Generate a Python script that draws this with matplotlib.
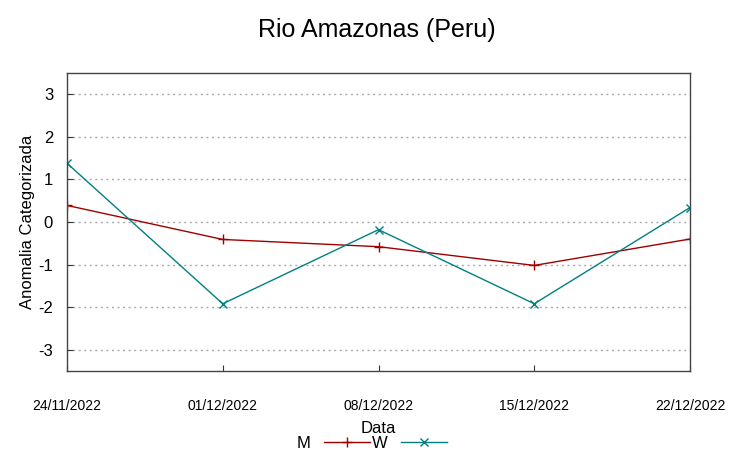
import matplotlib
matplotlib.use("Agg")
import matplotlib.pyplot as plt
from datetime import datetime

plt.rcParams['font.family'] = ['Liberation Sans', 'DejaVu Sans']

dates = ["24/11/2022", "01/12/2022", "08/12/2022", "15/12/2022", "22/12/2022"]
m_values = [0.39, -0.41, -0.58, -1.02, -0.40]
w_values = [1.38, -1.92, -0.18, -1.92, 0.34]
yticks = [-3, -2, -1, 0, 1, 2, 3]

x = [datetime.strptime(d, "%d/%m/%Y") for d in dates]

fig = plt.figure(figsize=(7.53, 4.59), dpi=100)
ax = fig.add_axes([67/753, 1-371/459, (690-67)/753, (371-73)/459])

ax.plot(x, m_values, color='#a00000', marker='+', markersize=7, lw=1, label='M')
ax.plot(x, w_values, color='#008080', marker='x', markersize=6, lw=1, label='W')

ax.set_xlim(x[0], x[-1])
ax.set_ylim(-3.5, 3.5)
ax.set_yticks(yticks)
ax.set_yticklabels([str(v) for v in yticks], fontsize=12)
ax.set_xticks(x)
ax.set_xticklabels(dates, fontsize=10)
ax.tick_params(axis='both', direction='in', length=4, color='#333333')
ax.tick_params(axis='x', pad=20)
ax.tick_params(axis='y', pad=10)
ax.grid(True, axis='y', linestyle=(0, (1.5, 2.5)), color='#aaaaaa', lw=1)
for s in ax.spines.values():
    s.set_color('#444444')
    s.set_linewidth(1)

ax.set_ylabel("Anomalia Categorizada", fontsize=12, labelpad=2)
ax.set_xlabel("Data", fontsize=12, labelpad=6)
fig.suptitle("Rio Amazonas (Peru)", fontsize=18, y=1-30/459, va='center')

fig.legend(loc='center', bbox_to_anchor=(372/753, 1-443/459), ncol=2, frameon=False,
           markerfirst=False, fontsize=12, handlelength=2.8, columnspacing=0.1,
           handletextpad=0.78, borderaxespad=0, borderpad=0)

fig.savefig("out.png", dpi=100)
